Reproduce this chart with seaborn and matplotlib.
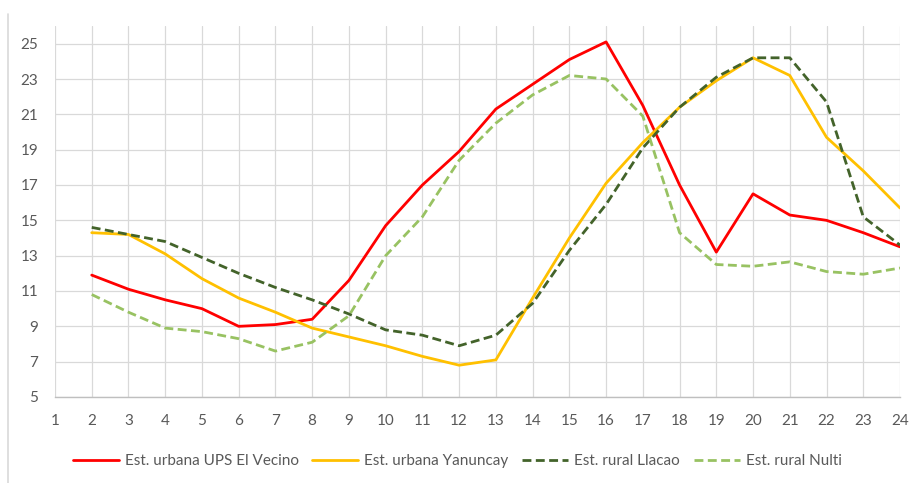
import matplotlib
matplotlib.use("Agg")
import matplotlib.pyplot as plt
import seaborn as sns
import pandas as pd

hours = list(range(2, 25))
ups_el_vecino = [11.9, 11.1, 10.5, 10.0, 9.0, 9.1, 9.4, 11.6, 14.7, 17.0, 18.9, 21.3,
                 22.7, 24.1, 25.1, 21.5, 17.0, 13.2, 16.5, 15.3, 15.0, 14.3, 13.5]
yanuncay = [14.3, 14.2, 13.1, 11.7, 10.6, 9.8, 8.9, 8.4, 7.9, 7.3, 6.8, 7.1,
            10.6, 14.0, 17.1, 19.4, 21.4, 22.9, 24.2, 23.2, 19.7, 17.8, 15.7]
llacao = [14.6, 14.2, 13.8, 12.9, 12.0, 11.2, 10.5, 9.7, 8.8, 8.5, 7.9, 8.5,
          10.3, 13.3, 15.9, 19.1, 21.4, 23.1, 24.2, 24.2, 21.7, 15.2, 13.6]
nulti = [10.8, 9.8, 8.9, 8.7, 8.3, 7.6, 8.1, 9.6, 13.0, 15.2, 18.4, 20.5,
         22.1, 23.2, 23.0, 20.9, 14.3, 12.5, 12.4, 12.65, 12.1, 11.95, 12.3]
series_names = ["Est. urbana UPS El Vecino", "Est. urbana Yanuncay",
                "Est. rural Llacao", "Est. rural Nulti"]
x_ticks = list(range(1, 25))
y_ticks = list(range(5, 26, 2))

frames = []
for name, vals in zip(series_names, [ups_el_vecino, yanuncay, llacao, nulti]):
    frames.append(pd.DataFrame({"hora": hours, "valor": vals, "serie": name}))
df = pd.concat(frames, ignore_index=True)

palette = {series_names[0]: "#FF0000", series_names[1]: "#FFC000",
           series_names[2]: "#43632A", series_names[3]: "#98C262"}
dashes = {series_names[0]: "", series_names[1]: "",
          series_names[2]: (3.2, 1.6), series_names[3]: (3.2, 1.6)}

sns.set_theme(style="white")
plt.rcParams['font.family'] = ['Lato', 'DejaVu Sans']

fig = plt.figure(figsize=(9.18, 4.83), dpi=100)
ax = fig.add_axes([55/918, 1-397/483, 845/918, 371/483])

sns.lineplot(data=df, x="hora", y="valor", hue="serie", style="serie",
             palette=palette, dashes=dashes, hue_order=series_names,
             style_order=series_names, linewidth=2.0, ax=ax, legend=True)

ax.set_xlim(1, 24)
ax.set_ylim(5, 26)
ax.set_xticks(x_ticks)
ax.set_yticks(y_ticks)
ax.set_xlabel("")
ax.set_ylabel("")
ax.grid(True, color="#D9D9D9", linewidth=0.9)
ax.set_axisbelow(True)
for s in ["top", "right", "left"]:
    ax.spines[s].set_visible(False)
ax.spines["bottom"].set_color("#BFBFBF")
ax.spines["bottom"].set_linewidth(1.0)
ax.tick_params(axis="both", length=0, labelsize=11, colors="#595959")
ax.tick_params(axis="x", pad=12)
ax.tick_params(axis="y", pad=12)

handles, labels = ax.get_legend_handles_labels()
ax.get_legend().remove()
leg = fig.legend(handles, labels, loc="center", bbox_to_anchor=(0.498, 1-461/483),
                 ncol=4, frameon=False, fontsize=11, handlelength=3.0,
                 columnspacing=0.9, handletextpad=0.4)
for t in leg.get_texts():
    t.set_color("#595959")

# partial chart border at left
fig.add_artist(plt.Line2D([8/918, 8/918], [0, 1-14/483], color="#D9D9D9",
                          linewidth=1.2, transform=fig.transFigure))

fig.savefig("out.png", dpi=100, facecolor="white")
